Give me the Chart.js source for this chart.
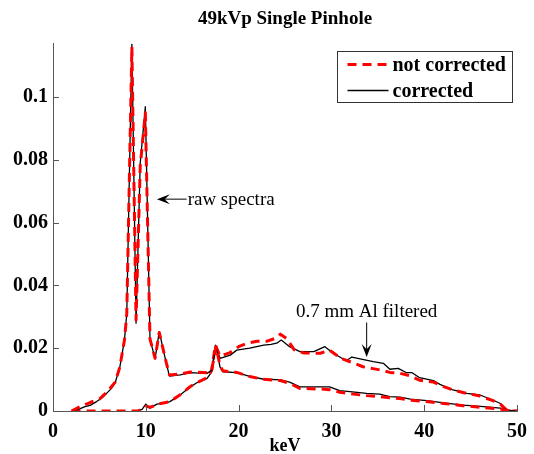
<!DOCTYPE html>
<html><head><meta charset="utf-8">
<script src="https://cdn.jsdelivr.net/npm/chart.js@4/dist/chart.umd.min.js"></script>
<style>html,body{margin:0;padding:0;background:#fff}#wrap{width:534px;height:454px}</style>
</head><body><div id="wrap"><canvas id="c" width="534" height="454"></canvas></div>
<script>
const TITLE = "49kVp Single Pinhole";
const X_LABEL = "keV";
const SERIES_NAMES = ["not corrected", "corrected"];
const X_TICKS = [0, 10, 20, 30, 40, 50];
const Y_TICKS = [0, 0.02, 0.04, 0.06, 0.08, 0.1];

// Raw spectrum
const rawKevNC = [2.0,3.0,4.0,5.0,5.8,6.7,7.2,7.7,7.95,8.5,8.95,9.4,9.95,10.45,11.0,11.45,12.2,12.55,13.7,14.8,16.6,17.1,17.56,18.0,18.3,19.8,21.2,22.6,24.5,25.5,26.6,28.8,29.8,30.9,32.0,33.8,35.2,36.3,37.4,38.5,40.3,42.1,44.2,46.4,48.2,49.2,50];
const rawNC    = [0,0.0015,0.0027,0.0038,0.006,0.0092,0.014,0.0226,0.031,0.116,0.029,0.078,0.095,0.023,0.0168,0.025,0.0155,0.0115,0.0118,0.0124,0.0122,0.013,0.0205,0.0145,0.0128,0.0123,0.011,0.0101,0.0097,0.0088,0.0072,0.007,0.0068,0.006,0.0055,0.0049,0.0046,0.0042,0.004,0.0034,0.003,0.0024,0.0017,0.0011,0.0006,0.0001,0];
const rawKevC  = [2.2,2.8,3.45,4.0,4.7,5.3,5.8,6.3,6.7,7.2,7.7,7.95,8.5,8.95,9.4,9.95,10.45,11.0,11.45,12.2,12.55,13.7,14.8,15.7,16.6,17.1,17.56,18.0,18.3,19.8,21.2,22.6,24.5,25.5,26.6,28.8,29.8,30.9,32.0,33.8,35.2,36.3,37.4,38.5,40.3,42.1,44.2,46.4,48.2,49.2,50];
const rawC     = [0,0.0006,0.0014,0.0018,0.003,0.0042,0.0057,0.0072,0.009,0.014,0.0226,0.031,0.117,0.028,0.079,0.097,0.023,0.0166,0.0253,0.0153,0.0111,0.0115,0.0122,0.0121,0.012,0.013,0.0205,0.014,0.0125,0.0122,0.011,0.0102,0.0099,0.0092,0.0077,0.0077,0.0077,0.0065,0.0062,0.0056,0.0054,0.0046,0.0044,0.0038,0.0033,0.0026,0.0019,0.0014,0.0009,0.0002,0];

// 0.7 mm Al filtered spectrum
const filKevNC = [2.0,9.2,10.0,10.5,11.3,12.6,13.7,14.8,15.5,16.6,17.1,17.5,18.0,19.0,20.0,20.9,22.0,23.0,24.0,24.5,25.2,26.0,27.0,28.8,29.8,31.0,32.2,33.4,34.5,35.2,36.3,37.4,38.5,39.5,41.0,42.0,43.1,44.6,46.0,47.4,48.2,49.0,50];
const filNC    = [0,0,0.0015,0.0012,0.0022,0.003,0.0052,0.0078,0.009,0.0106,0.013,0.021,0.0175,0.0185,0.0205,0.0216,0.0222,0.0222,0.0232,0.0245,0.023,0.0195,0.0185,0.0184,0.0194,0.0168,0.0155,0.0141,0.0135,0.0131,0.0123,0.012,0.0112,0.0098,0.0092,0.0079,0.0067,0.0056,0.0048,0.0033,0.0022,0,0];
const filKevC  = [9.0,9.6,10.0,10.45,11.2,11.9,12.6,13.7,14.8,15.5,16.6,17.1,17.5,18.0,19.1,19.8,21.2,22.7,23.5,24.1,24.6,25.5,26.6,28.1,29.3,30.2,31.6,32.2,33.1,34.5,35.6,36.3,37.2,38.1,38.7,39.5,41.0,41.7,43.1,44.6,46.0,47.4,48.2,48.9,50];
const filC     = [0,0.0005,0.0022,0.0009,0.0022,0.0024,0.003,0.0051,0.0077,0.009,0.0104,0.0125,0.021,0.0168,0.0178,0.0194,0.02,0.021,0.0212,0.0216,0.0226,0.0205,0.0189,0.0189,0.0205,0.0184,0.016,0.0172,0.0166,0.0157,0.0152,0.0133,0.0136,0.0122,0.0122,0.0106,0.0097,0.0085,0.0067,0.0056,0.0051,0.0035,0.0024,0.0003,0];

// Annotations (data coordinates)
const RAW_NOTE = {text: "raw spectra", tip: [11.2, 0.0675], tail: [14.4, 0.0675]};
const FIL_NOTE = {text: "0.7 mm Al filtered", tip: [33.8, 0.0172], tail: [33.8, 0.0282], label: [33.8, 0.0315]};

const pts = (xs, ys) => xs.map((x, i) => ({x: x, y: ys[i]}));
const SERIF = "'Liberation Serif', 'Times New Roman', serif";
const RED = '#ff0000';

function arrow(ctx, x0, y0, x1, y1) {
  const a = Math.atan2(y1 - y0, x1 - x0);
  const L = 13, W = 5;
  ctx.beginPath(); ctx.moveTo(x0, y0);
  ctx.lineTo(x1 - Math.cos(a) * 6, y1 - Math.sin(a) * 6); ctx.stroke();
  ctx.beginPath();
  ctx.moveTo(x1, y1);
  ctx.lineTo(x1 - L * Math.cos(a) + W * Math.sin(a), y1 - L * Math.sin(a) - W * Math.cos(a));
  ctx.lineTo(x1 - 0.6 * L * Math.cos(a), y1 - 0.6 * L * Math.sin(a));
  ctx.lineTo(x1 - L * Math.cos(a) - W * Math.sin(a), y1 - L * Math.sin(a) + W * Math.cos(a));
  ctx.closePath(); ctx.fill();
}

const extras = {
  id: 'extras',
  afterDraw(chart) {
    const ctx = chart.ctx, xs = chart.scales.x, ys = chart.scales.y, ca = chart.chartArea;
    ctx.save();
    // inward ticks
    ctx.strokeStyle = '#555'; ctx.lineWidth = 1;
    X_TICKS.forEach(v => { const p = Math.round(xs.getPixelForValue(v)) + 0.5;
      ctx.beginPath(); ctx.moveTo(p, ca.bottom); ctx.lineTo(p, ca.bottom - 6); ctx.stroke(); });
    Y_TICKS.forEach(v => { const p = Math.round(ys.getPixelForValue(v)) + 0.5;
      ctx.beginPath(); ctx.moveTo(ca.left, p); ctx.lineTo(ca.left + 6, p); ctx.stroke(); });
    // x axis title
    ctx.fillStyle = '#000'; ctx.font = "bold 18px " + SERIF;
    ctx.textAlign = 'center'; ctx.textBaseline = 'middle';
    ctx.fillText(X_LABEL, (ca.left + ca.right) / 2, 446);
    // annotations
    ctx.fillStyle = '#000'; ctx.strokeStyle = '#000'; ctx.lineWidth = 1;
    let t = [xs.getPixelForValue(RAW_NOTE.tip[0]), ys.getPixelForValue(RAW_NOTE.tip[1])];
    let s = [xs.getPixelForValue(RAW_NOTE.tail[0]), ys.getPixelForValue(RAW_NOTE.tail[1])];
    arrow(ctx, s[0], s[1], t[0], t[1]);
    ctx.font = "19px " + SERIF; ctx.textBaseline = 'middle'; ctx.textAlign = 'left';
    ctx.fillText(RAW_NOTE.text, s[0] + 1, s[1] + 1);
    t = [xs.getPixelForValue(FIL_NOTE.tip[0]), ys.getPixelForValue(FIL_NOTE.tip[1])];
    s = [xs.getPixelForValue(FIL_NOTE.tail[0]), ys.getPixelForValue(FIL_NOTE.tail[1])];
    arrow(ctx, s[0], s[1], t[0], t[1]);
    ctx.textAlign = 'center';
    ctx.fillText(FIL_NOTE.text, xs.getPixelForValue(FIL_NOTE.label[0]), ys.getPixelForValue(FIL_NOTE.label[1]));
    // legend
    const bx = 337.5, by = 51.5, bw = 175, bh = 51;
    ctx.fillStyle = '#fff'; ctx.fillRect(bx, by, bw, bh);
    ctx.strokeStyle = '#333'; ctx.lineWidth = 1; ctx.strokeRect(bx, by, bw, bh);
    const ds = chart.data.datasets;
    [0, 1].forEach((i, k) => {
      const y = by + 13 + k * 26;
      ctx.strokeStyle = ds[i].borderColor; ctx.lineWidth = ds[i].borderWidth;
      ctx.setLineDash(ds[i].borderDash || []);
      ctx.beginPath(); ctx.moveTo(bx + 10, y); ctx.lineTo(bx + 51, y); ctx.stroke();
      ctx.setLineDash([]);
      ctx.fillStyle = '#000'; ctx.font = "bold 20px " + SERIF; ctx.textAlign = 'left';
      ctx.fillText(ds[i].label, bx + 55, y + 1);
    });
    ctx.restore();
  }
};

const common = {pointRadius: 0, fill: false, tension: 0, borderJoinStyle: 'round'};
new Chart(document.getElementById('c'), {
  type: 'line',
  data: {datasets: [
    Object.assign({label: SERIES_NAMES[0], data: pts(rawKevNC, rawNC), borderColor: RED, borderWidth: 3, borderDash: [9, 6]}, common),
    Object.assign({label: SERIES_NAMES[1], data: pts(rawKevC, rawC), borderColor: '#000', borderWidth: 1.3}, common),
    Object.assign({label: SERIES_NAMES[0] + ' (filtered)', data: pts(filKevNC, filNC), borderColor: RED, borderWidth: 3, borderDash: [9, 6]}, common),
    Object.assign({label: SERIES_NAMES[1] + ' (filtered)', data: pts(filKevC, filC), borderColor: '#000', borderWidth: 1.3}, common)
  ]},
  options: {
    responsive: false, animation: false,
    layout: {padding: {left: 0, right: 17, top: 0, bottom: 0}},
    plugins: {
      legend: {display: false}, tooltip: {enabled: false},
      title: {display: true, text: TITLE, fullSize: false, color: '#000',
        font: {family: SERIF, size: 19, weight: 'bold'}, padding: {top: 8, bottom: 13}}
    },
    scales: {
      x: {type: 'linear', min: 0, max: 50,
        afterFit: s => { s.height = 43; s.paddingRight = 0; s.paddingLeft = 0; },
        afterBuildTicks: s => { s.ticks = X_TICKS.map(v => ({value: v})); },
        grid: {drawOnChartArea: false, drawTicks: false},
        border: {display: true, color: '#555', width: 1},
        ticks: {color: '#000', padding: 9, font: {family: SERIF, size: 20, weight: 'bold'}, maxRotation: 0}
      },
      y: {type: 'linear', min: 0, max: 0.117,
        afterFit: s => { s.width = 53; s.paddingTop = 0; s.paddingBottom = 0; },
        afterBuildTicks: s => { s.ticks = Y_TICKS.map(v => ({value: v})); },
        grid: {drawOnChartArea: false, drawTicks: false},
        border: {display: true, color: '#555', width: 1},
        ticks: {color: '#000', padding: 5, font: {family: SERIF, size: 20, weight: 'bold'},
          callback: v => String(parseFloat(v.toFixed(3)))}
      }
    }
  },
  plugins: [extras]
});
</script></body></html>
